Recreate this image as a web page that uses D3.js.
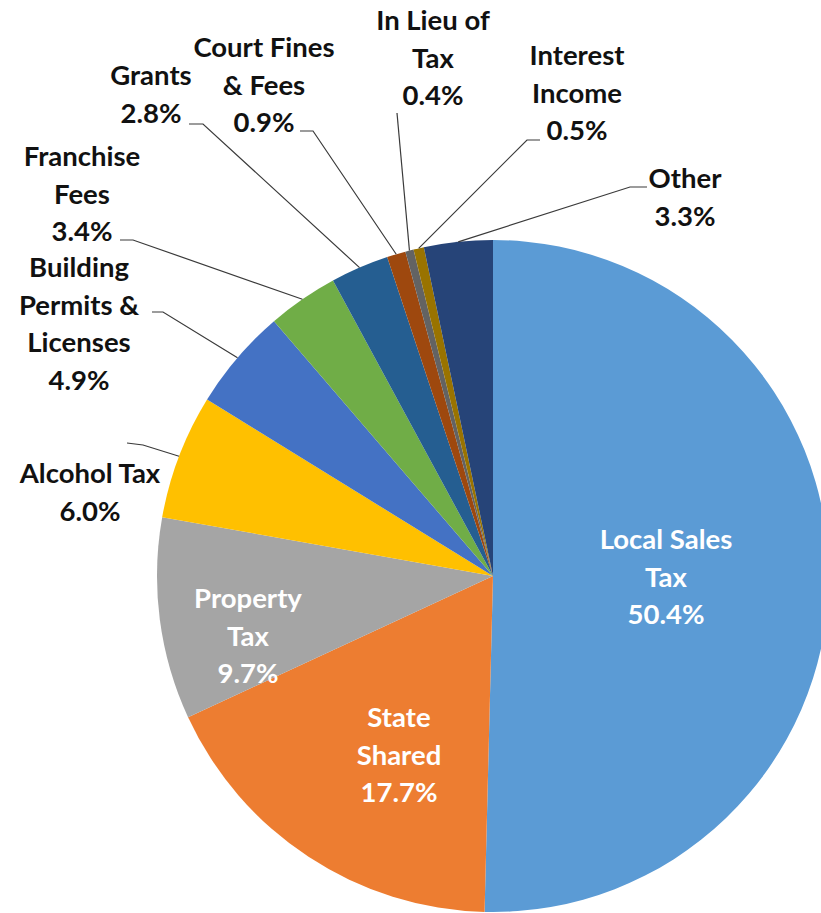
<!DOCTYPE html>
<html>
<head>
<meta charset="utf-8">
<script src="https://cdn.jsdelivr.net/npm/d3@7"></script>
<style>
  body { margin: 0; background: #fff; }
  text { font-family: Lato, "Open Sans", sans-serif; font-weight: bold; }
</style>
</head>
<body>
<div id="chart"></div>
<script>
// revenue shares, clockwise from 12 o'clock
var categories = ['Local Sales Tax', 'State Shared', 'Property Tax', 'Alcohol Tax',
  'Building Permits & Licenses', 'Franchise Fees', 'Grants', 'Court Fines & Fees',
  'In Lieu of Tax', 'Interest Income', 'Other'];
var shares = [50.4, 17.7, 9.7, 6.0, 4.9, 3.4, 2.8, 0.9, 0.4, 0.5, 3.3];
var labelLines = [
  ['Local Sales', 'Tax'], ['State', 'Shared'], ['Property', 'Tax'], ['Alcohol Tax'],
  ['Building', 'Permits &', 'Licenses'], ['Franchise', 'Fees'], ['Grants'],
  ['Court Fines', '& Fees'], ['In Lieu of', 'Tax'], ['Interest', 'Income'], ['Other']
];
var colors = ['#5B9BD5', '#ED7D31', '#A5A5A5', '#FFC000', '#4472C4', '#70AD47',
  '#255E91', '#9E480E', '#636363', '#997300', '#264478'];

//Width and height
var w = 821;
var h = 913;
var cx = 493, cy = 576, r = 336;
var lineH = 37.5;

// label placement: centre x, first baseline, inside or not, leader start + elbow
var labelPos = [
  { x: 666, y: 549, inside: true },
  { x: 399, y: 727, inside: true },
  { x: 248, y: 608, inside: true },
  { x: 90, y: 483, lead: [[127, 443], [143, 445]] },
  { x: 79, y: 277, lead: [[152, 312], [163, 312]] },
  { x: 82, y: 166, lead: [[120, 240], [133, 240]] },
  { x: 151, y: 85, lead: [[189, 124], [203, 124]] },
  { x: 264, y: 57, lead: [[300, 131], [313, 131]] },
  { x: 433, y: 30, lead: [[397, 113]] },
  { x: 577, y: 65, lead: [[540, 140], [527, 140]] },
  { x: 685, y: 188, lead: [[647, 187], [630, 187]] }
];

var data = categories.map(function (c, i) {
  return { name: c, value: shares[i], lines: labelLines[i].concat([shares[i].toFixed(1) + '%']),
    color: colors[i], pos: labelPos[i] };
});

var svg = d3.select('#chart')
            .append('svg')
            .attr('width', w)
            .attr('height', h);

var pie = d3.pie()
  .sort(null)
  .value(function (d) { return d.value; });

var arc = d3.arc().innerRadius(0).outerRadius(r);

var arcs = pie(data);

var g = svg.append('g').attr('transform', 'translate(' + cx + ',' + cy + ')');

g.selectAll('path')
  .data(arcs)
  .enter()
  .append('path')
  .attr('d', arc)
  .attr('fill', function (d) { return d.data.color; });

// leader lines to the edge of each outside slice
var line = d3.line();
svg.selectAll('path.leader')
  .data(arcs.filter(function (d) { return d.data.pos.lead; }))
  .enter()
  .append('path')
  .attr('class', 'leader')
  .attr('fill', 'none')
  .attr('stroke', '#3a3a3a')
  .attr('stroke-width', 1.2)
  .attr('d', function (d) {
    var a = (d.startAngle + d.endAngle) / 2;
    var edge = [cx + r * Math.sin(a), cy - r * Math.cos(a)];
    return line(d.data.pos.lead.concat([edge]));
  });

// labels
var labels = svg.selectAll('text.lbl')
  .data(arcs)
  .enter()
  .append('text')
  .attr('class', 'lbl')
  .attr('text-anchor', 'middle')
  .attr('font-size', 27.5)
  .attr('fill', function (d) { return d.data.pos.inside ? '#ffffff' : '#111111'; });

labels.selectAll('tspan')
  .data(function (d) {
    return d.data.lines.map(function (t, k) { return { t: t, x: d.data.pos.x, y: d.data.pos.y + k * lineH }; });
  })
  .enter()
  .append('tspan')
  .attr('x', function (d) { return d.x; })
  .attr('y', function (d) { return d.y; })
  .text(function (d) { return d.t; });
</script>
</body>
</html>
